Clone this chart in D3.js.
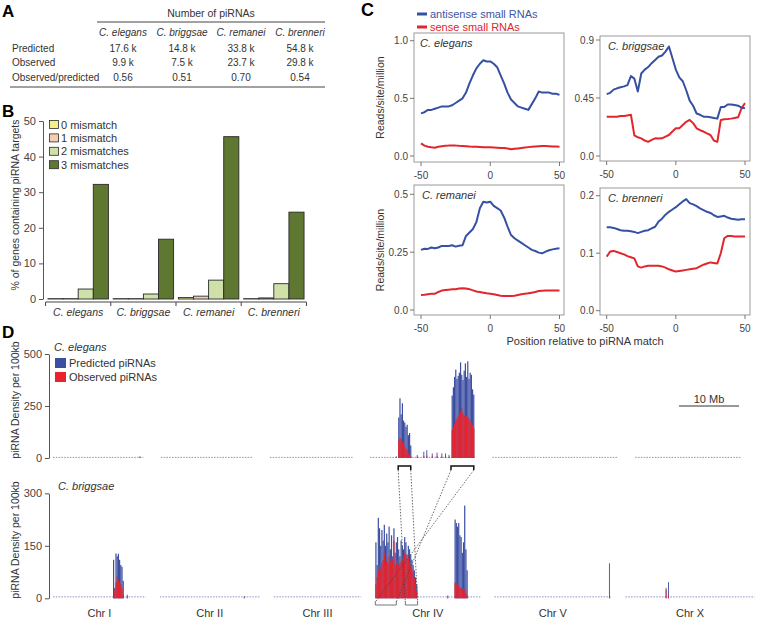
<!DOCTYPE html>
<html><head><meta charset="utf-8">
<script src="https://cdn.jsdelivr.net/npm/d3@7/dist/d3.min.js"></script>
<style>
body{margin:0;background:#fff;}
svg text{font-family:"Liberation Sans",Arial,Helvetica,sans-serif;}
</style></head>
<body><svg id="fig" width="758" height="618"></svg>
<script>
// ================= DATA =================
// ---- Panel A: table ----
const tableSpecies = ["C. elegans","C. briggsae","C. remanei","C. brenneri"];
const tableRowLabels = ["Predicted","Observed","Observed/predicted"];
const predictedCounts = ["17.6 k","14.8 k","33.8 k","54.8 k"];
const observedCounts = ["9.9 k","7.5 k","23.7 k","29.8 k"];
const observedOverPredicted = ["0.56","0.51","0.70","0.54"];

// ---- Panel B: % of genes containing piRNA targets ----
const barSpecies = ["C. elegans","C. briggsae","C. remanei","C. brenneri"];
const mismatchLabels = ["0 mismatch","1 mismatch","2 mismatches","3 mismatches"];
const pct0Mismatch = [0.1, 0.1, 0.4, 0.1];
const pct1Mismatch = [0.1, 0.1, 0.8, 0.3];
const pct2Mismatches = [2.8, 1.4, 5.3, 4.3];
const pct3Mismatches = [32.2, 16.8, 45.6, 24.4];
const pctTicks = [0, 10, 20, 30, 40, 50];

// ---- Panel C: reads/site/million around piRNA match ----
const positionTicks = [-50, 0, 50];
const positions = [-50,-47.5,-45,-42.5,-40,-37.5,-35,-32.5,-30,-27.5,-25,-22.5,-20,-17.5,-15,-12.5,-10,-7.5,-5,-2.5,0,2.5,5,7.5,10,12.5,15,17.5,20,22.5,25,27.5,30,32.5,35,37.5,40,42.5,45,47.5,50];
const elegansAntisense = [.37,.38,.40,.40,.41,.42,.43,.43,.43,.44,.46,.48,.50,.55,.63,.70,.76,.80,.83,.82,.82,.80,.77,.70,.63,.55,.49,.46,.43,.42,.41,.40,.45,.50,.56,.55,.55,.55,.54,.54,.53];
const elegansSense = [.11,.09,.08,.075,.072,.08,.085,.088,.09,.09,.09,.088,.087,.085,.082,.08,.08,.078,.076,.075,.075,.074,.072,.07,.07,.065,.058,.062,.066,.07,.074,.077,.08,.082,.084,.086,.087,.085,.083,.082,.08];
const briggsaeAntisense = [.48,.49,.515,.525,.533,.54,.55,.62,.60,.50,.64,.67,.69,.72,.745,.77,.78,.81,.85,.76,.67,.61,.58,.51,.43,.39,.33,.32,.305,.305,.30,.295,.29,.38,.38,.40,.40,.395,.39,.375,.37];
const briggsaeSense = [.305,.305,.305,.305,.31,.31,.315,.32,.16,.145,.137,.12,.11,.125,.137,.135,.137,.15,.163,.19,.215,.215,.24,.265,.28,.255,.215,.20,.19,.175,.163,.12,.11,.28,.285,.287,.29,.295,.30,.37,.41];
const remaneiAntisense = [.26,.265,.264,.27,.267,.27,.277,.277,.277,.28,.274,.278,.28,.32,.335,.35,.38,.44,.468,.465,.468,.45,.44,.43,.40,.36,.324,.31,.30,.29,.28,.27,.26,.255,.248,.245,.252,.258,.262,.265,.267];
const remaneiSense = [.065,.066,.068,.07,.07,.078,.084,.086,.088,.09,.09,.093,.094,.093,.09,.085,.08,.078,.075,.072,.07,.068,.065,.062,.06,.06,.06,.062,.065,.068,.07,.072,.075,.078,.082,.083,.084,.084,.084,.084,.084];
const brenneriAntisense = [.145,.145,.144,.142,.14,.139,.139,.138,.137,.135,.137,.139,.14,.143,.146,.155,.16,.167,.172,.176,.18,.185,.19,.194,.187,.185,.182,.178,.175,.172,.17,.166,.163,.164,.165,.162,.16,.159,.158,.159,.159];
const brenneriSense = [.094,.103,.104,.102,.10,.098,.095,.093,.091,.077,.075,.077,.078,.078,.078,.078,.077,.075,.072,.07,.068,.069,.07,.071,.072,.073,.074,.077,.08,.082,.084,.083,.082,.10,.126,.13,.13,.129,.129,.129,.129];
const elegansTicks = [0, 0.5, 1.0], elegansTickLabels = ["0.0","0.5","1.0"];
const briggsaeTicks = [0, 0.45, 0.9], briggsaeTickLabels = ["0.0","0.45","0.9"];
const remaneiTicks = [0, 0.25, 0.5], remaneiTickLabels = ["0.0","0.25","0.5"];
const brenneriTicks = [0, 0.1, 0.2], brenneriTickLabels = ["0.0","0.1","0.2"];

// ---- Panel D: piRNA density per 100kb along chromosomes ----
const chromNames = ["Chr I","Chr II","Chr III","Chr IV","Chr V","Chr X"];
const elegansChromMb = [15.07, 15.28, 13.78, 17.49, 20.92, 17.72];
const briggsaeChromMb = [15.46, 16.63, 14.58, 17.49, 19.50, 21.54];
const elegansBackground = [3, 3, 3, 3, 3, 3];
const briggsaeBackground = [4, 4, 4, 4, 4, 4];
const densityBinMb = 0.2;
const elegansDensityTicks = [0, 250, 500];
const briggsaeDensityTicks = [0, 150, 300];
// clusters: chromosome index, start (Mb), then per-bin predicted / observed
const eIV1Chr = 3, eIV1StartMb = 4.7;
const eIV1Pred = [195,287,210,263,180,170,150,160,110,120,60];
const eIV1Obs  = [85,95,90,80,70,55,45,38,25,15,8];
const eIV2Chr = 3, eIV2StartMb = 13.6;
const eIV2Pred = [300,340,390,425,380,395,410,460,400,375,420,455,390,465,380,410,400,330,305];
const eIV2Obs  = [135,150,165,175,190,200,210,220,240,215,205,210,200,195,190,180,170,160,140];
const bI1Chr = 0, bI1StartMb = 10.0;
const bI1Pred = [110,30,128,120,127,110,95,90,50];
const bI1Obs  = [5,25,45,62,55,45,40,30,10];
const bIV1Chr = 3, bIV1StartMb = 0.0;
const bIV1Pred = [160,95,230,200,150,195,165,210,150,185,160,205,140,180,120,200,130,160,175,140,120,165,150,140,175,160,125,150,140,125,110,95,80,60,40];
const bIV1Obs  = [40,60,80,95,85,100,110,130,95,105,100,120,105,115,110,165,95,100,110,95,100,105,110,120,130,125,110,115,105,95,85,75,60,40,20];
const bIV2Chr = 3, bIV2StartMb = 13.2;
const bIV2Pred = [225,215,205,215,180,175,130,160,265,140,80];
const bIV2Obs  = [45,40,45,35,30,30,25,28,25,15,8];
// isolated small peaks: [chromosome index, Mb, predicted, observed]
const elegansPeaks = [[3,4.3,8,2],[3,7.8,14,5],[3,8.9,30,10],[3,9.4,38,12],[3,10.3,22,8],[3,11.1,26,10],[3,11.9,22,6],[3,12.5,22,8],[3,13.1,15,5],[0,14.4,8,2]];
const briggsaePeaks = [[4,19.1,100,5],[5,6.7,30,25],[5,7.1,46,8],[0,12.3,10,3],[3,12.0,8,2],[1,14.0,6,1]];
// syntenic blocks on Chr IV (Mb); briggsae second block inverted
const elegansSyntenyMb = [[4.7, 6.8], [13.5, 17.3]];
const briggsaeSyntenyMb = [[5.0, 7.05], [3.5, 0.0]];
const scaleBarMb = 10;

// ================= DRAWING =================
const svg = d3.select("#fig");
function T(x, y, s, o = {}) {
  const t = svg.append("text").attr("x", x).attr("y", y).text(s)
    .attr("font-size", o.size || 10).attr("fill", o.fill || "#333");
  if (o.anchor) t.attr("text-anchor", o.anchor);
  if (o.italic) t.attr("font-style", "italic");
  if (o.bold) t.attr("font-weight", "bold");
  if (o.rotate) t.attr("transform", `rotate(-90,${x},${y})`);
  return t;
}
function L(x1, y1, x2, y2, stroke = "#333", w = 1, dash = null) {
  const l = svg.append("line").attr("x1", x1).attr("y1", y1).attr("x2", x2).attr("y2", y2)
    .attr("stroke", stroke).attr("stroke-width", w);
  if (dash) l.attr("stroke-dasharray", dash);
  return l;
}

// Panel letters
T(2, 17, "A", {size: 17, bold: true, fill: "#000"});
T(2, 117, "B", {size: 17, bold: true, fill: "#000"});
T(361, 16, "C", {size: 18, bold: true, fill: "#000"});
T(2, 338, "D", {size: 17, bold: true, fill: "#000"});

// ---------- Panel A ----------
{
  const col = d3.scalePoint().domain(tableSpecies).range([123, 300]);
  T(211, 17, "Number of piRNAs", {size: 10.5, anchor: "middle"});
  L(97, 22, 325, 22, "#444", 1);
  tableSpecies.forEach(s => T(col(s), 35.5, s, {size: 10, anchor: "middle", italic: true}));
  const rows = [predictedCounts, observedCounts, observedOverPredicted];
  tableRowLabels.forEach((r, i) => {
    const y = 51.5 + i * 14.7;
    T(12, y, r, {size: 10});
    rows[i].forEach((v, j) => T(col(tableSpecies[j]), y, v, {size: 10, anchor: "middle"}));
  });
  L(10, 87, 325, 87, "#444", 1);
}

// ---------- Panel B ----------
{
  const yB = d3.scaleLinear().domain([0, 50]).range([299, 121]);
  const xB = d3.scaleBand().domain(barSpecies).range([46, 306]).paddingInner(0.073).paddingOuter(0.03);
  const xBi = d3.scaleBand().domain(mismatchLabels).range([0, xB.bandwidth()]);
  const series = [pct0Mismatch, pct1Mismatch, pct2Mismatches, pct3Mismatches];
  const colors = ["#f6ee8a", "#f7cdb2", "#cfe1a9", "#5e7731"];
  series.forEach((vals, i) => {
    svg.append("g").selectAll("rect").data(vals).join("rect")
      .attr("x", (d, j) => xB(barSpecies[j]) + xBi(mismatchLabels[i]))
      .attr("width", xBi.bandwidth())
      .attr("y", d => yB(d)).attr("height", d => yB(0) - yB(d))
      .attr("fill", colors[i]).attr("stroke", "#2a2a2a").attr("stroke-width", 0.9);
  });
  const gy = svg.append("g").attr("transform", "translate(43,0)")
    .call(d3.axisLeft(yB).tickValues(pctTicks).tickSize(4).tickSizeOuter(0));
  gy.selectAll("text").attr("font-size", 11).attr("fill", "#444");
  gy.selectAll("line,path").attr("stroke", "#555");
  const half = xB.step() * xB.paddingInner() / 2;
  const bounds = barSpecies.map(s => xB(s) - half).concat([xB(barSpecies[3]) + xB.bandwidth() + half]);
  L(bounds[0], 302, bounds[4], 302, "#444", 1);
  bounds.forEach(b => L(b, 302, b, 306, "#444", 1));
  barSpecies.forEach(s => T(xB(s) + xB.bandwidth() / 2, 316, s, {size: 10.5, anchor: "middle", italic: true, fill: "#333"}));
  mismatchLabels.forEach((m, i) => {
    const y = 120.5 + i * 13.4;
    svg.append("rect").attr("x", 49.5).attr("y", y).attr("width", 9).attr("height", 8)
      .attr("fill", colors[i]).attr("stroke", "#2a2a2a").attr("stroke-width", 0.8);
    T(61, y + 8, m, {size: 11, fill: "#333"});
  });
  T(19, 205, "% of genes containing piRNA targets", {size: 10.5, anchor: "middle", rotate: true, fill: "#333"});
}

// ---------- Panel C ----------
{
  const blue = "#3651a3", red = "#e1262d";
  L(417, 14, 427, 14, blue, 3);
  T(430, 18, "antisense small RNAs", {size: 11, fill: "#3e55a5"});
  L(417, 27, 427, 27, red, 3);
  T(430, 31, "sense  small RNAs", {size: 11, fill: "#e1262d"});
  const panels = [
    {title: "C. elegans", anti: elegansAntisense, sense: elegansSense, ticks: elegansTicks, labels: elegansTickLabels,
     f: [414, 564, 33, 162], y0: 156, yT: 40.7, xl: 421, xr: 559.5, tx: 420, ylab: true},
    {title: "C. briggsae", anti: briggsaeAntisense, sense: briggsaeSense, ticks: briggsaeTicks, labels: briggsaeTickLabels,
     f: [600, 750, 36, 161], y0: 156, yT: 40, xl: 606.7, xr: 745, tx: 608},
    {title: "C. remanei", anti: remaneiAntisense, sense: remaneiSense, ticks: remaneiTicks, labels: remaneiTickLabels,
     f: [414, 564, 185, 315], y0: 310, yT: 194.3, xl: 421, xr: 559.5, tx: 422, ylab: true},
    {title: "C. brenneri", anti: brenneriAntisense, sense: brenneriSense, ticks: brenneriTicks, labels: brenneriTickLabels,
     f: [600, 750, 188, 315], y0: 310.7, yT: 195.7, xl: 606.7, xr: 745, tx: 608}
  ];
  panels.forEach(p => {
    const [x0, x1, y0, y1] = p.f;
    const x = d3.scaleLinear().domain([-50, 50]).range([p.xl, p.xr]);
    const y = d3.scaleLinear().domain([0, p.ticks[2]]).range([p.y0, p.yT]);
    svg.append("rect").attr("x", x0).attr("y", y0).attr("width", x1 - x0).attr("height", y1 - y0)
      .attr("fill", "none").attr("stroke", "#9a9a9a").attr("stroke-width", 1);
    p.ticks.forEach((t, i) => {
      L(x0 - 4, y(t), x0, y(t), "#777", 1);
      T(x0 - 6, y(t) + 3.5, p.labels[i], {size: 10, anchor: "end", fill: "#444"});
    });
    positionTicks.forEach(t => {
      L(x(t), y1, x(t), y1 + 4, "#777", 1);
      T(x(t), y1 + 16.5, String(t), {size: 10, anchor: "middle", fill: "#444"});
    });
    const line = d3.line().x((d, i) => x(positions[i])).y(d => y(d));
    svg.append("path").attr("d", line(p.sense)).attr("fill", "none").attr("stroke", red)
      .attr("stroke-width", 2).attr("stroke-linejoin", "round");
    svg.append("path").attr("d", line(p.anti)).attr("fill", "none").attr("stroke", blue)
      .attr("stroke-width", 2).attr("stroke-linejoin", "round");
    T(p.tx, y0 + 13.5, p.title, {size: 11, italic: true, fill: "#333"});
    if (p.ylab) T(384, (y0 + y1) / 2, "Reads/site/million", {size: 10.5, anchor: "middle", rotate: true, fill: "#333"});
  });
  T(585, 345, "Position relative to piRNA match", {size: 11, anchor: "middle", fill: "#333"});
}

// ---------- Panel D ----------
{
  const blue = "#3b4ea2", red = "#e8232b";
  const xD = d3.scaleLinear().domain([0, 120]).range([53, 53 + 120 * 6]);
  const starts = (lens, gap) => { let s = 0; return lens.map(l => { const v = s; s += l + gap; return v; }); };
  const eStart = starts(elegansChromMb, 2.9);
  const bStart = starts(briggsaeChromMb, 2.35);
  const yE = d3.scaleLinear().domain([0, 500]).range([458, 354]);
  const yBr = d3.scaleLinear().domain([0, 300]).range([598.3, 493.3]);
  const binW = xD(densityBinMb) - xD(0);

  function track(yS, st, lens, bg, clusters, peaks) {
    const g = svg.append("g");
    lens.forEach((l, i) => {
      g.append("line").attr("x1", xD(st[i])).attr("x2", xD(st[i] + l))
        .attr("y1", yS(bg[i])).attr("y2", yS(bg[i]))
        .attr("stroke", "#8f97c8").attr("stroke-width", 1).attr("stroke-dasharray", "1.6,1.2");
    });
    const drawBars = (chr, start, vals, color, w) => {
      g.append("g").selectAll("rect").data(vals).join("rect")
        .attr("x", (d, i) => xD(st[chr] + start + i * densityBinMb))
        .attr("width", w)
        .attr("y", d => yS(d)).attr("height", d => yS(0) - yS(d))
        .attr("fill", color);
    };
    clusters.forEach(c => drawBars(c[0], c[1], c[2], blue, binW));
    clusters.forEach(c => drawBars(c[0], c[1], c[3], red, binW));
    peaks.forEach(p => {
      const px = xD(st[p[0]] + p[1]);
      g.append("rect").attr("x", px).attr("width", 0.9).attr("y", yS(p[2])).attr("height", yS(0) - yS(p[2])).attr("fill", blue);
      g.append("rect").attr("x", px).attr("width", 0.9).attr("y", yS(p[3])).attr("height", yS(0) - yS(p[3])).attr("fill", red);
    });
  }
  track(yE, eStart, elegansChromMb, elegansBackground,
    [[eIV1Chr, eIV1StartMb, eIV1Pred, eIV1Obs], [eIV2Chr, eIV2StartMb, eIV2Pred, eIV2Obs]], elegansPeaks);
  track(yBr, bStart, briggsaeChromMb, briggsaeBackground,
    [[bI1Chr, bI1StartMb, bI1Pred, bI1Obs], [bIV1Chr, bIV1StartMb, bIV1Pred, bIV1Obs], [bIV2Chr, bIV2StartMb, bIV2Pred, bIV2Obs]], briggsaePeaks);

  [[yE, elegansDensityTicks], [yBr, briggsaeDensityTicks]].forEach(([yS, tv]) => {
    const g = svg.append("g").attr("transform", "translate(49,0)")
      .call(d3.axisLeft(yS).tickValues(tv).tickSize(4).tickSizeOuter(0));
    g.selectAll("text").attr("font-size", 11).attr("fill", "#444");
    g.selectAll("line,path").attr("stroke", "#555");
  });
  T(19, 400, "piRNA Density per 100kb", {size: 10.5, anchor: "middle", rotate: true, fill: "#333"});
  T(19, 540, "piRNA Density per 100kb", {size: 10.5, anchor: "middle", rotate: true, fill: "#333"});

  T(54, 351, "C. elegans", {size: 11, italic: true, fill: "#333"});
  svg.append("rect").attr("x", 55).attr("y", 358).attr("width", 11).attr("height", 10).attr("fill", blue);
  T(69, 367, "Predicted piRNAs", {size: 11, fill: "#333"});
  svg.append("rect").attr("x", 55).attr("y", 372).attr("width", 11).attr("height", 10).attr("fill", red);
  T(69, 381, "Observed piRNAs", {size: 11, fill: "#333"});
  T(58, 490, "C. briggsae", {size: 11, italic: true, fill: "#333"});

  const sbx = 679;
  L(sbx, 406, sbx + xD(scaleBarMb) - xD(0), 406, "#333", 1);
  T(sbx + (xD(scaleBarMb) - xD(0)) / 2, 402.5, scaleBarMb + " Mb", {size: 11, anchor: "middle", fill: "#333"});

  chromNames.forEach((c, i) => T(xD(bStart[i] + briggsaeChromMb[i] / 2), 617, c, {size: 11, anchor: "middle", fill: "#333"}));

  elegansSyntenyMb.forEach((e, k) => {
    const ex1 = xD(eStart[3] + e[0]), ex2 = xD(eStart[3] + e[1]);
    const b = briggsaeSyntenyMb[k];
    const bx1 = xD(bStart[3] + b[0]), bx2 = xD(bStart[3] + b[1]);
    svg.append("path").attr("d", `M${ex1},470V466H${ex2}V470`).attr("fill", "none").attr("stroke", "#111").attr("stroke-width", 1.5);
    const lo = Math.min(bx1, bx2), hi = Math.max(bx1, bx2);
    svg.append("path").attr("d", `M${lo},601V605H${hi}V601`).attr("fill", "none").attr("stroke", "#777").attr("stroke-width", 1);
    L(ex1, 470, bx1, 602, "#444", 0.8, "1.5,1.5");
    L(ex2, 470, bx2, 602, "#444", 0.8, "1.5,1.5");
  });
}
</script>
</body></html>
